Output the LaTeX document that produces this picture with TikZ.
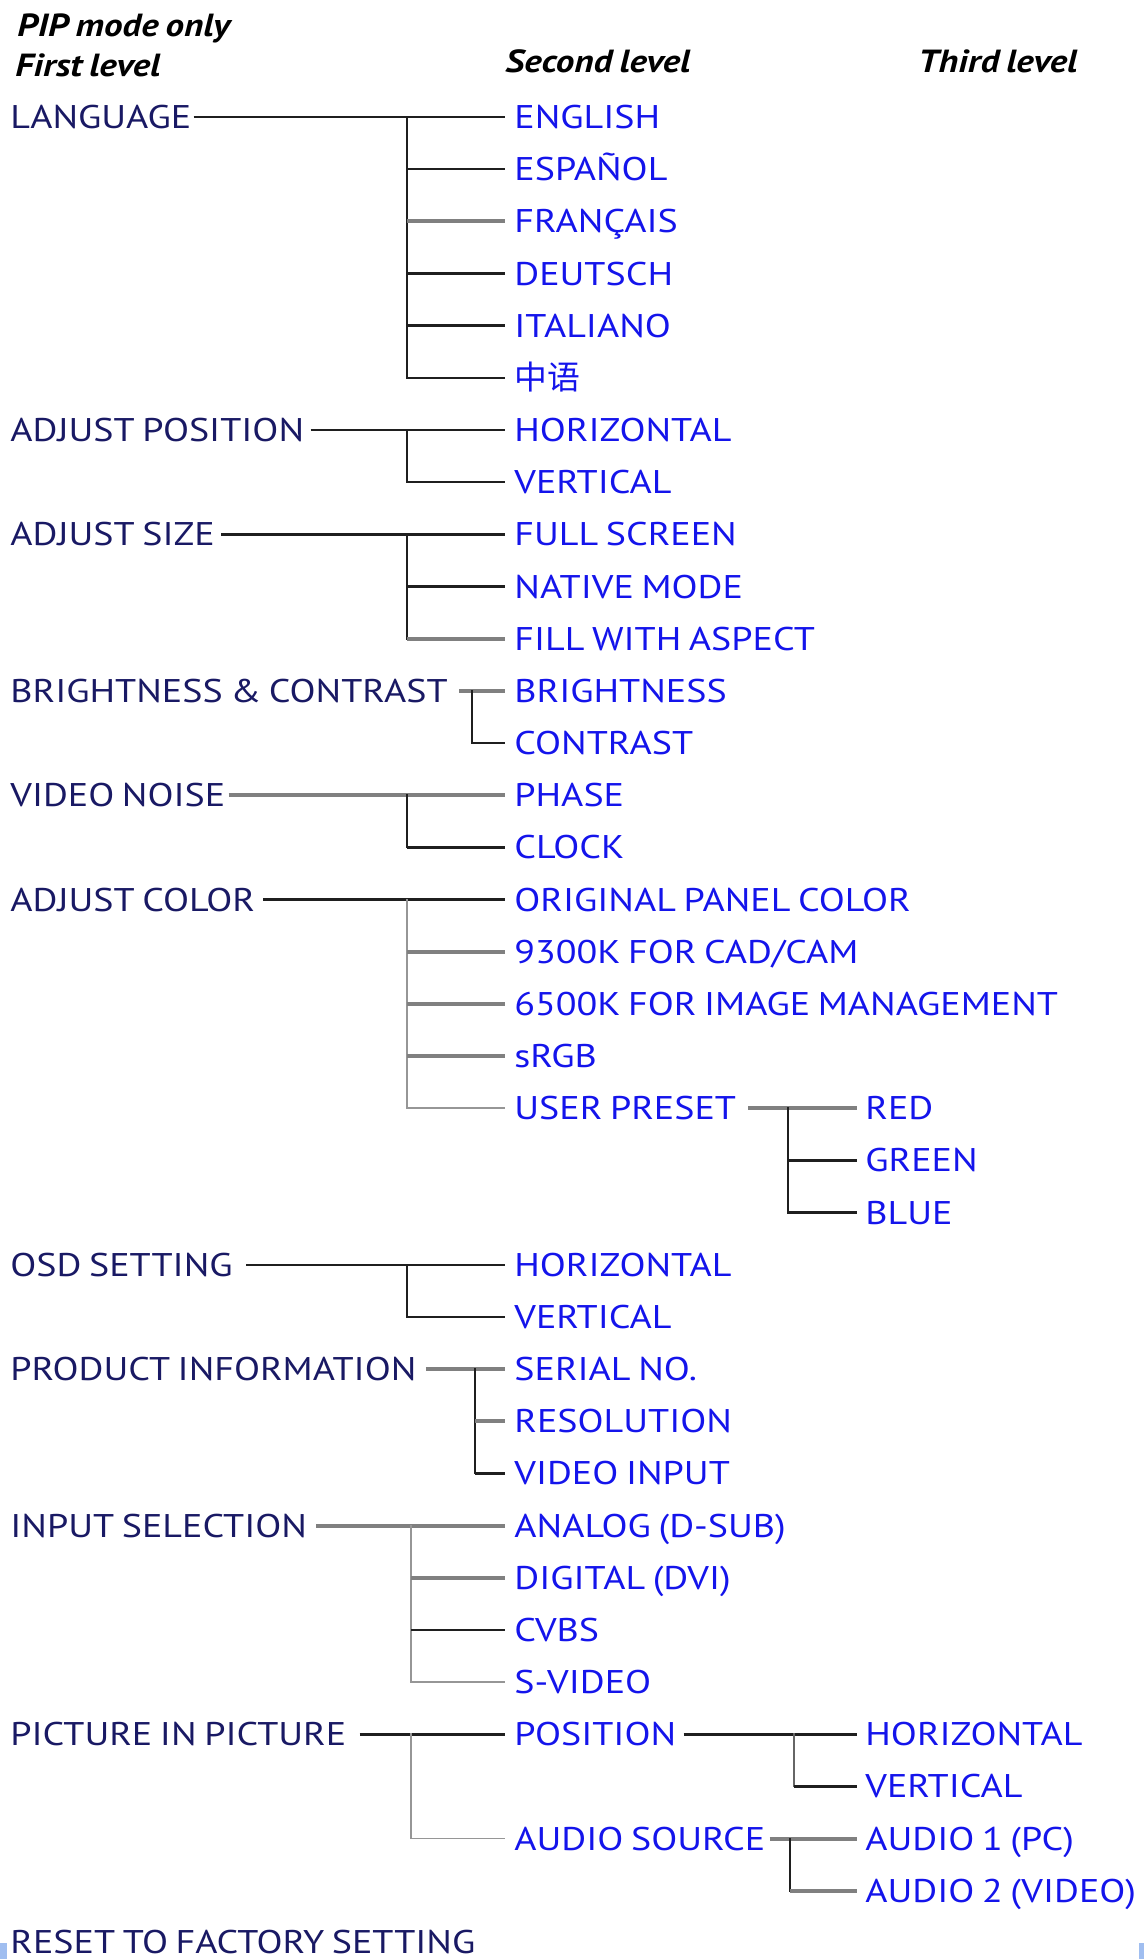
\documentclass[tikz,border=0pt]{standalone}
\usepackage{fontspec}
\setmainfont{PT Sans}[FakeStretch=1.16,WordSpace=0.75]
\newfontfamily\cjk{Noto Sans CJK SC}
\definecolor{navy}{RGB}{25,25,100}
\definecolor{itemblue}{RGB}{20,20,235}
\definecolor{gthick}{RGB}{128,128,128}
\definecolor{gthin}{RGB}{150,150,150}
\definecolor{cornerblue}{RGB}{160,190,240}
\newcommand\ry[1]{117+52.17*#1}
\tikzset{
  lvlbase/.style={anchor=west, inner sep=0pt, text height=11.5pt, text depth=0pt,
    font=\fontsize{16.4}{20}\selectfont},
  first/.style={lvlbase, text=navy},
  item/.style={lvlbase, text=itemblue},
  head/.style={anchor=base west, inner sep=0pt, font=\fontsize{16}{20}\selectfont\bfseries\itshape, text=black},
  blk/.style={draw=black!88, line width=1.25pt},
  trk/.style={draw=black!88, line width=1pt, line cap=rect},
  gk/.style={draw=gthick, line width=2pt},
  gt/.style={draw=gthin, line width=0.8pt},
  gtt/.style={draw=gthin, line width=0.8pt, line cap=rect},
  gmt/.style={draw=black!60, line width=1pt, line cap=rect},
}
\begin{document}
\begin{tikzpicture}[x=0.5pt,y=-0.5pt]
\useasboundingbox (0,0) rectangle (1144,1959);
\fill[cornerblue] (0,1943) rectangle (7,1959);
\fill[cornerblue] (1139,1943) rectangle (1144,1959);
% headings
\node[head] (h1) at (17,37) {PIP mode only};
\node[head] (h2) at (15,77) {First level};
\node[head] (h3) at (505,73) {Second level};
\node[head] (h4) at (918,73) {Third level};
% first level
\node[first] (f0)  at (10,{\ry{0}})  {LANGUAGE};
\node[first] (f6)  at (10,{\ry{6}})  {ADJUST POSITION};
\node[first] (f8)  at (10,{\ry{8}})  {ADJUST SIZE};
\node[first] (f11) at (10,{\ry{11}}) {BRIGHTNESS \& CONTRAST};
\node[first] (f13) at (10,{\ry{13}}) {VIDEO NOISE};
\node[first] (f15) at (10,{\ry{15}}) {ADJUST COLOR};
\node[first] (f22) at (10,{\ry{22}}) {OSD SETTING};
\node[first] (f24) at (10,{\ry{24}}) {PRODUCT INFORMATION};
\node[first] (f27) at (10,{\ry{27}}) {INPUT SELECTION};
\node[first] (f31) at (10,{\ry{31}}) {PICTURE IN PICTURE};
\node[first] (f35) at (10,{\ry{35}-1}) {RESET TO FACTORY SETTING};
% second level
\node[item] (s0)  at (514,{\ry{0}})  {ENGLISH};
\node[item] (s1)  at (514,{\ry{1}})  {ESPAÑOL};
\node[item] (s2)  at (514,{\ry{2}})  {FRANÇAIS};
\node[item] (s3)  at (514,{\ry{3}})  {DEUTSCH};
\node[item] (s4)  at (514,{\ry{4}})  {ITALIANO};
\node[item] (s5)  at (514,{\ry{5}})  {\cjk 中语};
\node[item] (s6)  at (514,{\ry{6}})  {HORIZONTAL};
\node[item] (s7)  at (514,{\ry{7}})  {VERTICAL};
\node[item] (s8)  at (514,{\ry{8}})  {FULL SCREEN};
\node[item] (s9)  at (514,{\ry{9}})  {NATIVE MODE};
\node[item] (s10) at (514,{\ry{10}}) {FILL WITH ASPECT};
\node[item] (s11) at (514,{\ry{11}}) {BRIGHTNESS};
\node[item] (s12) at (514,{\ry{12}}) {CONTRAST};
\node[item] (s13) at (514,{\ry{13}}) {PHASE};
\node[item] (s14) at (514,{\ry{14}}) {CLOCK};
\node[item] (s15) at (514,{\ry{15}}) {ORIGINAL PANEL COLOR};
\node[item] (s16) at (514,{\ry{16}}) {9300K FOR CAD/CAM};
\node[item] (s17) at (514,{\ry{17}}) {6500K FOR IMAGE MANAGEMENT};
\node[item] (s18) at (514,{\ry{18}}) {sRGB};
\node[item] (s19) at (514,{\ry{19}}) {USER PRESET};
\node[item] (s22) at (514,{\ry{22}}) {HORIZONTAL};
\node[item] (s23) at (514,{\ry{23}}) {VERTICAL};
\node[item] (s24) at (514,{\ry{24}}) {SERIAL NO.};
\node[item] (s25) at (514,{\ry{25}}) {RESOLUTION};
\node[item] (s26) at (514,{\ry{26}}) {VIDEO INPUT};
\node[item] (s27) at (514,{\ry{27}}) {ANALOG (D-SUB)};
\node[item] (s28) at (514,{\ry{28}}) {DIGITAL (DVI)};
\node[item] (s29) at (514,{\ry{29}}) {CVBS};
\node[item] (s30) at (514,{\ry{30}}) {S-VIDEO};
\node[item] (s31) at (514,{\ry{31}}) {POSITION};
\node[item] (s33) at (514,{\ry{33}}) {AUDIO SOURCE};
% third level
\node[item] (t19) at (865,{\ry{19}}) {RED};
\node[item] (t20) at (865,{\ry{20}}) {GREEN};
\node[item] (t21) at (865,{\ry{21}}) {BLUE};
\node[item] (t31) at (865,{\ry{31}}) {HORIZONTAL};
\node[item] (t32) at (865,{\ry{32}}) {VERTICAL};
\node[item] (t33) at (865,{\ry{33}}) {AUDIO 1 (PC)};
\node[item] (t34) at (865,{\ry{34}}) {AUDIO 2 (VIDEO)};
% trunk coordinates
\coordinate (k0)  at (407,{\ry{0}});
\coordinate (k6)  at (407,{\ry{6}});
\coordinate (k8)  at (407,{\ry{8}});
\coordinate (k11) at (472,{\ry{11}});
\coordinate (k13) at (407,{\ry{13}});
\coordinate (k15) at (407,{\ry{15}});
\coordinate (k19) at (788,{\ry{19}});
\coordinate (k22) at (407,{\ry{22}});
\coordinate (k24) at (475,{\ry{24}});
\coordinate (k27) at (411,{\ry{27}});
\coordinate (k31) at (411,{\ry{31}});
\coordinate (p31) at (794,{\ry{31}});
\coordinate (a33) at (790,{\ry{33}});
% LANGUAGE
\draw[blk] ([xshift=1pt]f0.east) -- ([xshift=-4.5pt]s0.west);
\draw[trk] (k0) -- (k0 |- s5.west);
\draw[blk] (k0 |- s1.west) -- ([xshift=-4.5pt]s1.west);
\draw[gk]  (k0 |- s2.west) -- ([xshift=-4.5pt]s2.west);
\draw[blk] (k0 |- s3.west) -- ([xshift=-4.5pt]s3.west);
\draw[blk] (k0 |- s4.west) -- ([xshift=-4.5pt]s4.west);
\draw[blk] (k0 |- s5.west) -- ([xshift=-4.5pt]s5.west);
% ADJUST POSITION
\draw[blk] ([xshift=3pt]f6.east) -- ([xshift=-4.5pt]s6.west);
\draw[trk] (k6) -- (k6 |- s7.west);
\draw[blk] (k6 |- s7.west) -- ([xshift=-4.5pt]s7.west);
% ADJUST SIZE
\draw[blk] ([xshift=3pt]f8.east) -- ([xshift=-4.5pt]s8.west);
\draw[trk] (k8) -- (k8 |- s10.west);
\draw[blk] (k8 |- s9.west) -- ([xshift=-4.5pt]s9.west);
\draw[gk]  (k8 |- s10.west) -- ([xshift=-4.5pt]s10.west);
% BRIGHTNESS & CONTRAST
\draw[gk]  ([xshift=5.5pt]f11.east) -- ([xshift=-4.5pt]s11.west);
\draw[trk] (k11) -- (k11 |- s12.west);
\draw[blk] (k11 |- s12.west) -- ([xshift=-4.5pt]s12.west);
% VIDEO NOISE
\draw[gk]  ([xshift=1.5pt]f13.east) -- ([xshift=-4.5pt]s13.west);
\draw[trk] (k13) -- (k13 |- s14.west);
\draw[blk] (k13 |- s14.west) -- ([xshift=-4.5pt]s14.west);
% ADJUST COLOR
\draw[blk] ([xshift=4pt]f15.east) -- ([xshift=-4.5pt]s15.west);
\draw[gtt] (k15) -- (k15 |- s19.west);
\draw[gk]  (k15 |- s16.west) -- ([xshift=-4.5pt]s16.west);
\draw[gk]  (k15 |- s17.west) -- ([xshift=-4.5pt]s17.west);
\draw[gk]  (k15 |- s18.west) -- ([xshift=-4.5pt]s18.west);
\draw[gt]  (k15 |- s19.west) -- ([xshift=-4.5pt]s19.west);
% USER PRESET
\draw[gk]  ([xshift=6pt]s19.east) -- ([xshift=-4pt]t19.west);
\draw[trk] (k19) -- (k19 |- t21.west);
\draw[blk] (k19 |- t20.west) -- ([xshift=-4pt]t20.west);
\draw[blk] (k19 |- t21.west) -- ([xshift=-4pt]t21.west);
% OSD SETTING
\draw[blk] ([xshift=6.5pt]f22.east) -- ([xshift=-4.5pt]s22.west);
\draw[trk] (k22) -- (k22 |- s23.west);
\draw[blk] (k22 |- s23.west) -- ([xshift=-4.5pt]s23.west);
% PRODUCT INFORMATION
\draw[gk]  ([xshift=4.5pt]f24.east) -- ([xshift=-4.5pt]s24.west);
\draw[trk] (k24) -- (k24 |- s26.west);
\draw[gk]  (k24 |- s25.west) -- ([xshift=-4.5pt]s25.west);
\draw[blk] (k24 |- s26.west) -- ([xshift=-4.5pt]s26.west);
% INPUT SELECTION
\draw[gk]  ([xshift=4.5pt]f27.east) -- ([xshift=-4.5pt]s27.west);
\draw[gtt] (k27) -- (k27 |- s30.west);
\draw[gk]  (k27 |- s28.west) -- ([xshift=-4.5pt]s28.west);
\draw[blk] (k27 |- s29.west) -- ([xshift=-4.5pt]s29.west);
\draw[gt]  (k27 |- s30.west) -- ([xshift=-4.5pt]s30.west);
% PICTURE IN PICTURE
\draw[blk] ([xshift=6.5pt]f31.east) -- ([xshift=-4.5pt]s31.west);
\draw[gtt] (k31) -- (k31 |- s33.west);
\draw[gt]  (k31 |- s33.west) -- ([xshift=-4.5pt]s33.west);
% POSITION
\draw[blk] ([xshift=3.5pt]s31.east) -- ([xshift=-4pt]t31.west);
\draw[gmt] (p31) -- (p31 |- t32.west);
\draw[blk] (p31 |- t32.west) -- ([xshift=-4pt]t32.west);
% AUDIO SOURCE
\draw[gk]  ([xshift=2pt]s33.east) -- ([xshift=-4pt]t33.west);
\draw[trk] (a33) -- (a33 |- t34.west);
\draw[gk]  (a33 |- t34.west) -- ([xshift=-4pt]t34.west);
\end{tikzpicture}
\end{document}
